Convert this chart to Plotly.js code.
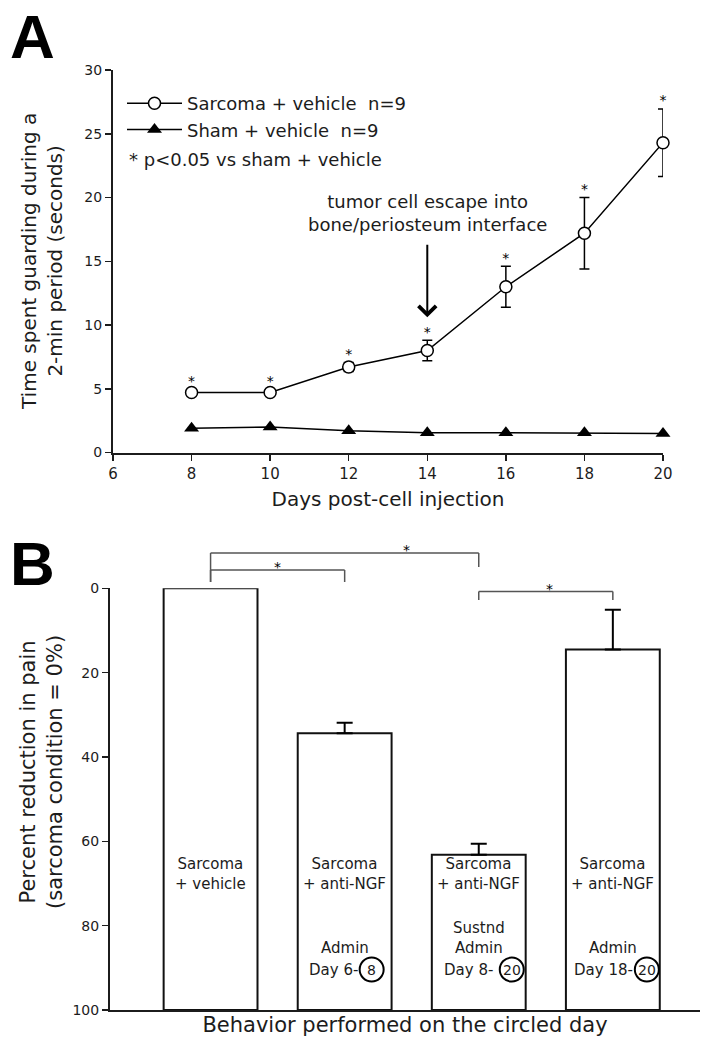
<!DOCTYPE html>
<html>
<head>
<meta charset="utf-8">
<script src="https://cdn.plot.ly/plotly-3.0.1.min.js"></script>
<style>html,body{margin:0;padding:0;background:#fff;}#chart{width:704px;height:1050px;}</style>
</head>
<body>
<div id="chart"></div>
<script>
// ---------- Panel A data ----------
const days = [8, 10, 12, 14, 16, 18, 20];
const sarcomaMean = [4.7, 4.7, 6.7, 8.0, 13.0, 17.2, 24.3];
const sarcomaErr = [0.25, 0.25, 0.35, 0.8, 1.6, 2.8, 2.65];
const shamMean = [1.9, 2.0, 1.7, 1.55, 1.55, 1.55, 1.5];
const xTicksA = [6, 8, 10, 12, 14, 16, 18, 20];
const yTicksA = [0, 5, 10, 15, 20, 25, 30];

// ---------- Panel B data ----------
const groups = ['Sarcoma + vehicle', 'Sarcoma + anti-NGF, Admin Day 6-8',
                'Sarcoma + anti-NGF, Sustnd Admin Day 8-20', 'Sarcoma + anti-NGF, Admin Day 18-20'];
const pctReduction = [0, 34.4, 63.2, 14.5];
const pctErr = [0, 2.5, 2.6, 9.4];
const yTicksB = [0, 20, 40, 60, 80, 100];
const barTopLabels = ['Sarcoma<br>+ vehicle', 'Sarcoma<br>+ anti-NGF', 'Sarcoma<br>+ anti-NGF', 'Sarcoma<br>+ anti-NGF'];
const adminLabels = ['', 'Admin', 'Sustnd<br>Admin', 'Admin'];
const dayLabels = ['', 'Day 6-', 'Day 8- ', 'Day 18-'];
const circledDays = ['', '8', '20', '20'];
const comparisons = [[0, 1], [0, 2], [2, 3]];

// ---------- style / layout constants ----------
const FONT = '"DejaVu Sans", "Liberation Sans", Arial, sans-serif';
const INK = '#1c1c1c';
const W = 704, H = 1050;
const py = p => 1 - p / H;            // pixel row -> paper y
const px = p => p / W;                // pixel col -> paper x
const circleOffset = [0, 27, 33, 34]; // pixel offset of circled day from bar centre
const bracketLevel = [570, 553, 591.5];     // px rows of bracket bars
const bracketLegs = [[582, 582], [582, 567], [600, 600]];
const bracketStarX = [0.5, 1.46, 2.53];

const xIdx = groups.map((g, i) => i);

const traces = [
  {
    x: days, y: sarcomaMean, type: 'scatter', mode: 'lines+markers',
    name: 'Sarcoma + vehicle\u00a0\u00a0n=9',
    line: {color: '#000', width: 1.5},
    marker: {symbol: 'circle', size: 12, color: '#fff', line: {color: '#000', width: 1.5}},
    error_y: {type: 'data', array: sarcomaErr, color: '#000', thickness: 1.5, width: 5},
    xaxis: 'x', yaxis: 'y', cliponaxis: false
  },
  {
    x: days, y: shamMean, type: 'scatter', mode: 'lines+markers',
    name: 'Sham + vehicle\u00a0\u00a0n=9',
    line: {color: '#000', width: 1.5},
    marker: {symbol: 'triangle-up', size: 13, color: '#000'},
    xaxis: 'x', yaxis: 'y', cliponaxis: false
  },
  {
    x: days, y: sarcomaMean.map((m, i) => m + sarcomaErr[i]), type: 'scatter', mode: 'text',
    text: days.map(() => '*'), textposition: 'top center',
    textfont: {size: 14, color: '#000', family: FONT},
    showlegend: false, hoverinfo: 'skip', xaxis: 'x', yaxis: 'y', cliponaxis: false
  },
  {
    x: xIdx, base: pctReduction, y: pctReduction.map(v => 100 - v), type: 'bar', width: 0.7,
    hovertext: groups, hoverinfo: 'text',
    marker: {color: '#fff', line: {color: '#111', width: 2}},
    showlegend: false, xaxis: 'x2', yaxis: 'y2', cliponaxis: false
  },
  {
    x: xIdx.filter(i => pctErr[i] > 0), y: pctReduction.filter((v, i) => pctErr[i] > 0),
    type: 'scatter', mode: 'markers', marker: {size: 1, color: 'rgba(0,0,0,0)'},
    error_y: {type: 'data', symmetric: false, array: pctErr.filter(e => e > 0).map(() => 0),
              arrayminus: pctErr.filter(e => e > 0), color: '#000', thickness: 2, width: 8},
    showlegend: false, hoverinfo: 'skip', xaxis: 'x2', yaxis: 'y2', cliponaxis: false
  }
];

const axisCommon = {
  showline: true, linewidth: 2, linecolor: INK, showgrid: false, zeroline: false,
  ticks: 'outside', ticklen: 6, tickwidth: 1.5, tickcolor: INK,
  tickfont: {family: FONT, size: 14, color: INK}, fixedrange: true, automargin: false
};

const LETTER_FONT = {family: '"Liberation Sans", Arial, sans-serif', size: 62, color: '#000'};
const annotations = [
  {text: '<b>A</b>', xref: 'paper', yref: 'paper', x: px(8), y: py(0), xanchor: 'left', yanchor: 'top',
   showarrow: false, font: LETTER_FONT},
  {text: '<b>B</b>', xref: 'paper', yref: 'paper', x: px(8), y: py(527), xanchor: 'left', yanchor: 'top',
   showarrow: false, font: LETTER_FONT},
  {text: 'Time spent guarding during a<br>2-min period (seconds)', textangle: -90,
   xref: 'paper', yref: 'paper', x: px(42), y: py(262), xanchor: 'center', yanchor: 'middle',
   showarrow: false, font: {family: FONT, size: 20, color: INK}},
  {text: 'Percent reduction in pain<br>(sarcoma condition = 0%)', textangle: -90,
   xref: 'paper', yref: 'paper', x: px(41), y: py(772), xanchor: 'center', yanchor: 'middle',
   showarrow: false, font: {family: FONT, size: 21, color: INK}},
  {text: '* p&lt;0.05 vs sham + vehicle', xref: 'paper', yref: 'paper', x: px(127), y: py(159),
   xanchor: 'left', yanchor: 'middle', showarrow: false, font: {family: FONT, size: 18, color: INK}},
  {text: 'tumor cell escape into<br>bone/periosteum interface', xref: 'x', yref: 'y',
   x: 14, y: 10.6, axref: 'x', ayref: 'y', ax: 14, ay: 18.77, showarrow: true,
   arrowhead: 4, arrowsize: 1.7, arrowwidth: 2, arrowcolor: '#000', startstandoff: 8,
   font: {family: FONT, size: 18, color: INK}}
];

xIdx.forEach(i => {
  annotations.push({text: barTopLabels[i], xref: 'x2', yref: 'y2', x: i, y: 67.8, showarrow: false,
    font: {family: FONT, size: 15, color: INK}});
  if (adminLabels[i]) {
    annotations.push({text: adminLabels[i], xref: 'x2', yref: 'y2', x: i, y: 87.9, yanchor: 'bottom',
      showarrow: false, font: {family: FONT, size: 15, color: INK}});
    annotations.push({text: dayLabels[i], xref: 'x2', yref: 'y2', x: i, y: 90.4, xanchor: 'right',
      xshift: circleOffset[i] - 12, showarrow: false, font: {family: FONT, size: 15, color: INK}});
    annotations.push({text: circledDays[i], xref: 'x2', yref: 'y2', x: i, y: 90.4, xshift: circleOffset[i],
      showarrow: false, font: {family: FONT, size: 14, color: INK}});
  }
});

const shapes = [];
xIdx.forEach(i => {
  if (circledDays[i]) {
    shapes.push({type: 'circle', xref: 'x2', yref: 'y2', xsizemode: 'pixel', ysizemode: 'pixel',
      xanchor: i, yanchor: 90.4, x0: circleOffset[i] - 12, x1: circleOffset[i] + 12, y0: -12, y1: 12,
      line: {color: '#000', width: 2}});
  }
});
comparisons.forEach((c, k) => {
  const lv = py(bracketLevel[k]);
  const line = {color: '#555', width: 1.5};
  shapes.push({type: 'line', xref: 'x2', yref: 'paper', x0: c[0], x1: c[1], y0: lv, y1: lv, line});
  shapes.push({type: 'line', xref: 'x2', yref: 'paper', x0: c[0], x1: c[0], y0: lv, y1: py(bracketLegs[k][0]), line});
  shapes.push({type: 'line', xref: 'x2', yref: 'paper', x0: c[1], x1: c[1], y0: lv, y1: py(bracketLegs[k][1]), line});
  annotations.push({text: '*', xref: 'x2', yref: 'paper', x: bracketStarX[k], y: lv, yanchor: 'middle', yshift: 3,
    showarrow: false, font: {family: FONT, size: 14, color: '#000'}});
});

const layout = {
  width: W, height: H, margin: {l: 0, r: 0, t: 0, b: 0, pad: 0},
  paper_bgcolor: '#fff', plot_bgcolor: 'rgba(0,0,0,0)',
  font: {family: FONT, color: INK, size: 14},
  showlegend: true,
  legend: {x: px(122), xanchor: 'left', y: py(85), yanchor: 'top', bgcolor: 'rgba(0,0,0,0)',
           borderwidth: 0, font: {family: FONT, size: 18, color: INK}, itemwidth: 55, tracegroupgap: 0},
  xaxis: Object.assign({}, axisCommon, {
    domain: [px(113), px(663)], range: [6, 20], tickvals: xTicksA, anchor: 'y',
    tickfont: {family: FONT, size: 15, color: INK},
    title: {text: 'Days post-cell injection', font: {family: FONT, size: 20, color: INK}, standoff: 10}
  }),
  yaxis: Object.assign({}, axisCommon, {
    domain: [py(452.5), py(70)], range: [0, 30], tickvals: yTicksA, anchor: 'x'
  }),
  xaxis2: Object.assign({}, axisCommon, {
    domain: [px(110), px(700)], range: [-0.75, 3.65], anchor: 'y2', ticks: '', showticklabels: false,
    title: {text: 'Behavior performed on the circled day', font: {family: FONT, size: 21, color: INK}, standoff: 6}
  }),
  yaxis2: Object.assign({}, axisCommon, {
    domain: [py(1010), py(588.3)], range: [100, 0], tickvals: yTicksB, anchor: 'x2'
  }),
  annotations, shapes
};

Plotly.newPlot('chart', traces, layout, {displayModeBar: false, staticPlot: true});
</script>
</body>
</html>
